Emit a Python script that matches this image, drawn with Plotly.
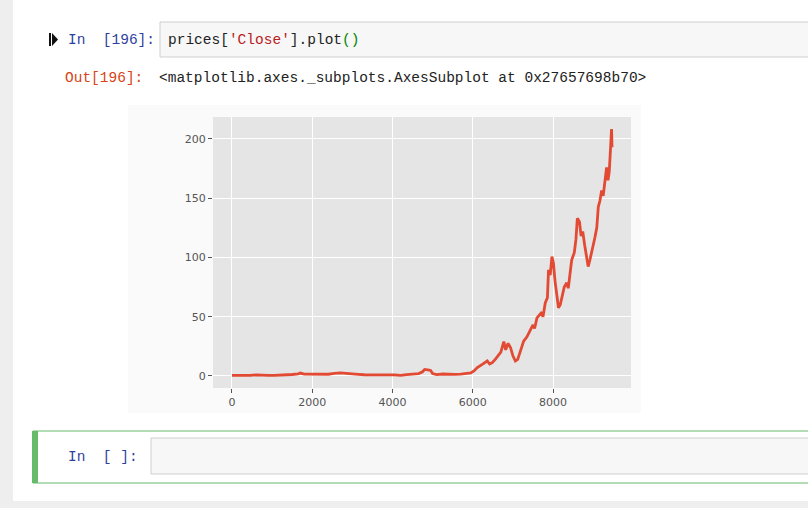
import plotly.graph_objects as go

# -----------------------------------------------------------------------------
# DATA (day index -> closing price)
# -----------------------------------------------------------------------------
day = [0, 150, 300, 450, 600, 750, 900, 1050, 1200, 1350, 1500, 1650, 1700,
       1800, 1950, 2100, 2250, 2400, 2550, 2700, 2850, 3000, 3150, 3300,
       3450, 3600, 3750, 3900, 4050, 4200, 4350, 4500, 4650, 4750, 4800,
       4880, 4950, 5000, 5100, 5250, 5400, 5550, 5700, 5850, 5950, 6030,
       6113, 6237, 6300, 6361, 6420, 6485, 6560, 6650, 6700, 6773, 6820,
       6880, 6940, 7000, 7062, 7120, 7200, 7268, 7350, 7434, 7500, 7540,
       7600, 7700, 7750, 7806, 7860, 7888, 7930, 7972, 8010, 8050, 8100,
       8136, 8180, 8230, 8280, 8342, 8380, 8430, 8466, 8530, 8570, 8606,
       8660, 8700, 8740, 8790, 8840, 8876, 8920, 8970, 9045, 9090, 9128,
       9170, 9211, 9250, 9300, 9335, 9370, 9400, 9430, 9458, 9470]
close = [0.5, 0.4, 0.3, 0.4, 0.9, 0.5, 0.4, 0.5, 0.6, 1.0, 1.2, 1.8, 2.4,
         1.5, 1.4, 1.6, 1.5, 1.4, 2.2, 2.5, 2.1, 2.0, 1.3, 1.0,
         1.1, 1.2, 1.4, 0.9, 0.8, 0.5, 1.0, 1.5, 2.0, 3.5, 5.5,
         5.0, 4.6, 2.0, 1.1, 1.6, 1.2, 1.3, 1.5, 1.9, 2.5, 4.2,
         7.0, 9.8, 11.5, 12.6, 10.0, 11.2, 14.0, 18.2, 20.0, 29.0, 22.0,
         27.5, 24.0, 17.0, 12.6, 14.0, 22.0, 29.4, 33.0, 39.0, 43.0, 40.0,
         49.0, 53.0, 50.0, 61.6, 66.0, 89.5, 85.0, 100.7, 95.0, 80.0, 65.0,
         57.4, 60.0, 67.0, 75.0, 78.6, 74.0, 88.0, 98.0, 104.0, 115.0, 133.0,
         130.0, 118.0, 122.0, 110.0, 100.0, 92.3, 98.0, 105.0, 117.0, 125.0, 142.6,
         148.0, 156.6, 152.0, 168.0, 176.0, 165.0, 172.0, 190.0, 208.4, 193.0]

xticks = [0, 2000, 4000, 6000, 8000]
yticks = [0, 50, 100, 150, 200]

W, H = 808, 508


def px(x):
    return x / W


def py(y):
    return 1 - y / H


def rect(x0, y0, x1, y1, fill, line=None, lw=0):
    return dict(type='rect', xref='paper', yref='paper', layer='below',
                x0=px(x0), x1=px(x1), y0=py(y0), y1=py(y1),
                fillcolor=fill, line=dict(color=line or fill, width=lw))


def label(x, y, text, color='#333', size=14.5, font='Liberation Mono'):
    return dict(x=px(x), y=py(y), xref='paper', yref='paper', text=text,
                showarrow=False, xanchor='left', yanchor='middle',
                font=dict(family=font, size=size, color=color))


# -----------------------------------------------------------------------------
# PLOT
# -----------------------------------------------------------------------------
fig = go.Figure()
fig.add_trace(go.Scatter(x=day, y=close, mode='lines',
                         line=dict(color='#E24A33', width=2.8)))

shapes = [
    # notebook page
    rect(0, 0, 13, H, '#eeeeee'),
    rect(0, 501, W, H, '#eeeeee'),
    # input cell 1
    rect(160, 22, 812, 57, '#f7f7f7', '#cfcfcf', 1),
    # figure background + axes background
    rect(128, 105, 641, 413, '#fafafa'),
    rect(213, 117, 631, 388, '#e5e5e5'),
    # selected empty cell
    rect(33, 431, 812, 483, 'white', '#66bb6a', 1),
    rect(32, 431, 38, 483, '#66bb6a'),
    rect(151, 438, 812, 474, '#f7f7f7', '#cfcfcf', 1),
    # run icon
    rect(49, 33, 51, 46, '#111'),
    dict(type='path', xref='paper', yref='paper', layer='below',
         path='M %f,%f L %f,%f L %f,%f Z' % (px(52), py(33), px(58), py(39.5),
                                              px(52), py(46)),
         fillcolor='#111', line=dict(width=0)),
]

code = ("prices[<span style=\"color:#BA2121\">'Close'</span>].plot"
        "<span style=\"color:#008800\">()</span>")
annotations = [
    label(66, 40, 'In\u00a0\u00a0[196]:', '#303F9F'),
    label(166, 40, code, '#222'),
    label(63, 78, 'Out[196]:', '#D84315'),
    label(157, 78, '&lt;matplotlib.axes._subplots.AxesSubplot at 0x27657698b70&gt;', '#222'),
    label(66, 457, 'In\u00a0\u00a0[\u00a0]:', '#303F9F'),
]

fig.update_layout(width=W, height=H, margin=dict(l=0, r=0, t=0, b=0),
                  paper_bgcolor='white', plot_bgcolor='rgba(0,0,0,0)',
                  showlegend=False, shapes=shapes, annotations=annotations)

tickfont = dict(family='DejaVu Sans', size=11, color='#555')
fig.update_xaxes(domain=[px(213), px(631)], range=[-473, 9943],
                 tickvals=xticks, ticks='outside', ticklen=4, tickcolor='#555',
                 showgrid=True, gridcolor='white', gridwidth=1, zeroline=False,
                 showline=False, tickfont=tickfont)
fig.update_yaxes(domain=[py(388), py(117)], range=[-10.2, 218.5],
                 tickvals=yticks, ticks='outside', ticklen=4, tickcolor='#555',
                 showgrid=True, gridcolor='white', gridwidth=1, zeroline=False,
                 showline=False, tickfont=tickfont)

# page body has an 8px margin by default; remove it so the figure fills the window
fig.write_html("out.html", config={'displayModeBar': False},
               post_script="document.body.style.margin='0';"
                           "document.body.style.overflow='hidden';")
